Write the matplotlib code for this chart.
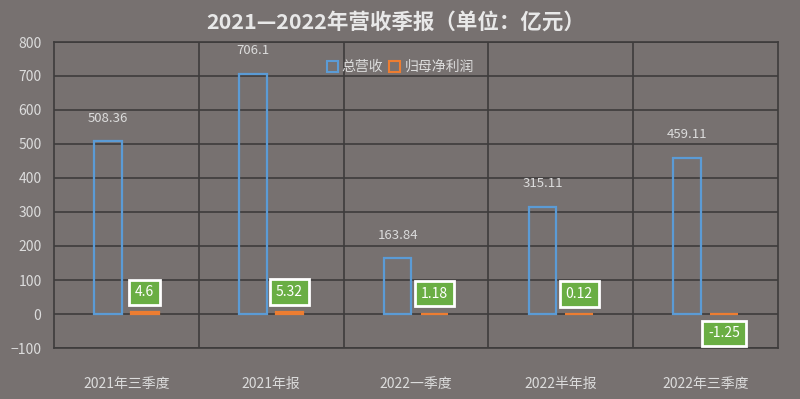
import matplotlib
matplotlib.use("Agg")
import matplotlib.pyplot as plt
from matplotlib.patches import Patch
import numpy as np

plt.rcParams['font.family'] = ['Noto Sans CJK SC', 'DejaVu Sans']

categories = ["2021年三季度", "2021年报", "2022一季度", "2022半年报", "2022年三季度"]
revenue = [508.36, 706.1, 163.84, 315.11, 459.11]
profit = [4.6, 5.32, 1.18, 0.12, -1.25]
revenue_labels = ["508.36", "706.1", "163.84", "315.11", "459.11"]
profit_labels = ["4.6", "5.32", "1.18", "0.12", "-1.25"]
series_names = ["总营收", "归母净利润"]
title = "2021—2022年营收季报（单位：亿元）"

bg = "#777170"
grid_c = "#3e3c3c"
text_c = "#dcdcdc"
blue = "#5b9bd5"
orange = "#ed7d31"
green = "#6aae44"

fig = plt.figure(figsize=(8, 3.99), dpi=100, facecolor=bg)
ax = fig.add_axes([54/800, 1-348/399, (778-54)/800, (348-42)/399], facecolor=bg)

x = np.arange(len(categories))
w = 0.19
off = 0.127

ax.bar(x - off, revenue, width=w, facecolor="none", edgecolor=blue, linewidth=1.6, zorder=3)
ax.bar(x + off, profit, width=w, facecolor=orange, edgecolor=orange, linewidth=1.6, zorder=3)

for xi, v, lab in zip(x, revenue, revenue_labels):
    ax.annotate(lab, (xi - off, v), xytext=(0, 23), textcoords="offset pixels",
                ha="center", va="center", color=text_c, fontsize=9.5, zorder=5)

for xi, v, lab in zip(x, profit, profit_labels):
    dy = 20 if v >= 0 else -19
    ax.annotate(lab, (xi + off, v), xytext=(0, dy), textcoords="offset pixels",
                ha="center", va="center", color="white", fontsize=10, zorder=6,
                bbox=dict(boxstyle="square,pad=0.42", facecolor=green, edgecolor="white", linewidth=2))

ax.set_ylim(-100, 800)
ax.set_yticks(np.arange(-100, 801, 100))
ax.set_xlim(-0.5, len(categories) - 0.5)
ax.set_xticks(x)
ax.set_xticklabels(categories)
ax.tick_params(axis="both", length=0, colors=text_c, labelsize=10)
ax.tick_params(axis="y", pad=9)
ax.tick_params(axis="x", pad=21)

ax.grid(axis="y", color=grid_c, linewidth=1.2, zorder=0)
for b in np.arange(0.5, len(categories) - 0.5, 1):
    ax.axvline(b, color=grid_c, linewidth=1.2, zorder=0)
for s in ["left", "right", "top", "bottom"]:
    ax.spines[s].set_color(grid_c)
    ax.spines[s].set_linewidth(1.2)

handles = [Patch(facecolor="none", edgecolor=blue, linewidth=1.5),
           Patch(facecolor="none", edgecolor=orange, linewidth=1.5)]
ax.legend(handles, series_names, loc="center", bbox_to_anchor=(0.478, 0.918),
          ncol=2, frameon=False, fontsize=10, labelcolor=text_c,
          handlelength=0.8, handleheight=0.8, handletextpad=0.3, columnspacing=0.4)

fig.text(0.495, 1-22/399, title, ha="center", va="center", color="#e8e8e8",
         fontsize=15.5, fontweight="bold")

fig.savefig("out.png", dpi=100, facecolor=bg)
